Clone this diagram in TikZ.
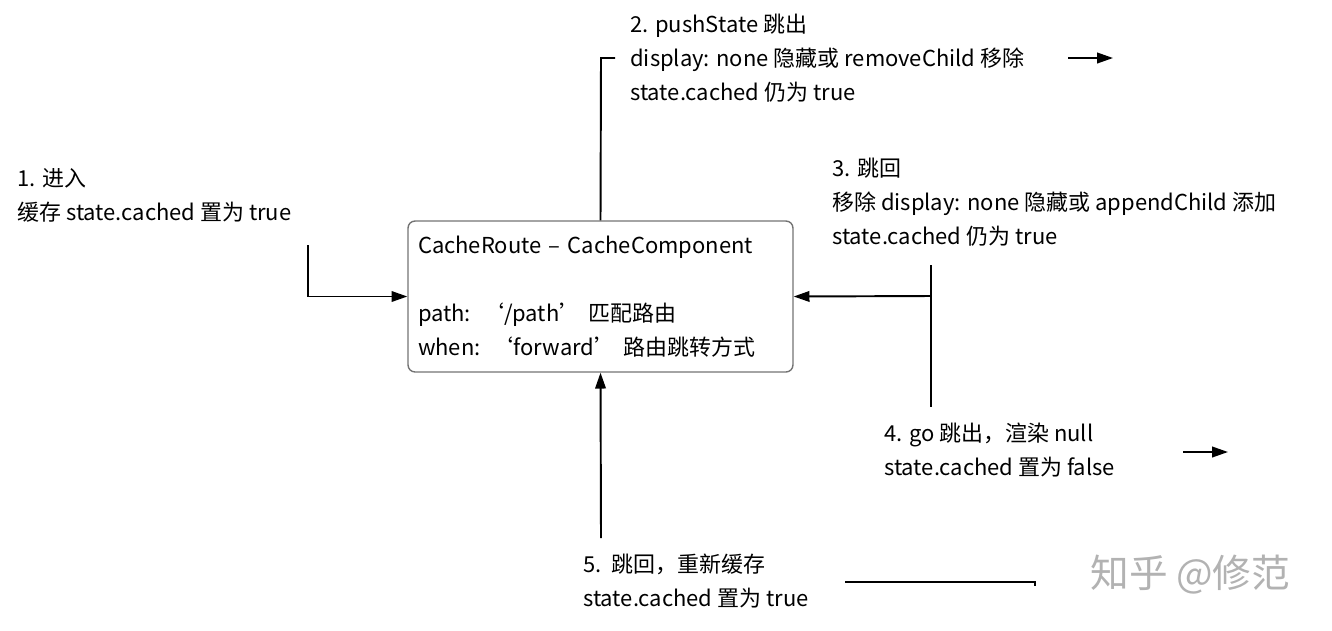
\documentclass[tikz,border=0pt]{standalone}
\usepackage{fontspec}
\setmainfont{Noto Sans CJK SC}
\usetikzlibrary{positioning,arrows.meta}

\begin{document}
\begin{tikzpicture}[
    x=0.02cm, y=-0.02cm,
    note/.style={align=left, anchor=north west, inner sep=0pt, font=\fontsize{12.5}{19.3}\selectfont},
    cachebox/.style={rectangle, rounded corners=4pt, draw=black!55, line width=0.8pt, minimum width=7.7cm, minimum height=3.02cm, align=left, text width=7.3cm, inner sep=0pt, font=\fontsize{12.5}{19.3}\selectfont},
    arrow/.style={-{Triangle[length=9pt,width=6pt]}, line width=1.1pt},
    wire/.style={line width=1.1pt}
]
\useasboundingbox (0,0) rectangle (1332,630);

% Main component
\node (cache) [cachebox] at (600.5,296.5) {CacheRoute -- CacheComponent\\\mbox{}\\path: ‘/path’ 匹配路由\\when: ‘forward’ 路由跳转方式};

% Step notes
\node (enter) [note] at (17,168) {1. 进入\\缓存 state.cached 置为 true};
\node (push) [note] at (630,14) {2. pushState 跳出\\display: none 隐藏或 removeChild 移除\\state.cached 仍为 true};
\node (back) [note] at (832,158) {3. 跳回\\移除 display: none 隐藏或 appendChild 添加\\state.cached 仍为 true};
\node (go) [note] at (884,423) {4. go 跳出，渲染 null\\state.cached 置为 false};
\node (reback) [note] at (583,554) {5.\ \ 跳回，重新缓存\\state.cached 置为 true};
\node (mark) [anchor=west, inner sep=0pt, text=black!30, font=\fontsize{22}{24}\selectfont] at (1090,575) {知乎 @修范};

% Free ends
\coordinate (enterTop) at (308,245);
\coordinate (pushTop) at (601,58);
\coordinate (pushEnd) at (615,58);
\coordinate (pushA) at (1068,58);
\coordinate (pushB) at (1113,58);
\coordinate (backTop) at (931,265);
\coordinate (backMid) at (931,296);
\coordinate (backBot) at (931,407);
\coordinate (goA) at (1183,452);
\coordinate (goB) at (1228,452);
\coordinate (rebackBot) at (601,538);
\coordinate (rebackA) at (845,582);
\coordinate (rebackB) at (1035,582);

% Connectors
\draw[arrow] (enterTop) |- (cache.west);
\draw[wire] (cache.north) -- (pushTop) -- (pushEnd);
\draw[arrow] (pushA) -- (pushB);
\draw[wire] (backTop) -- (backBot);
\draw[arrow] (backMid) -- (cache.east);
\draw[arrow] (goA) -- (goB);
\draw[arrow] (rebackBot) -- (cache.south);
\draw[wire] (rebackA) -- (rebackB) -- ++(0,4);

\end{tikzpicture}
\end{document}
